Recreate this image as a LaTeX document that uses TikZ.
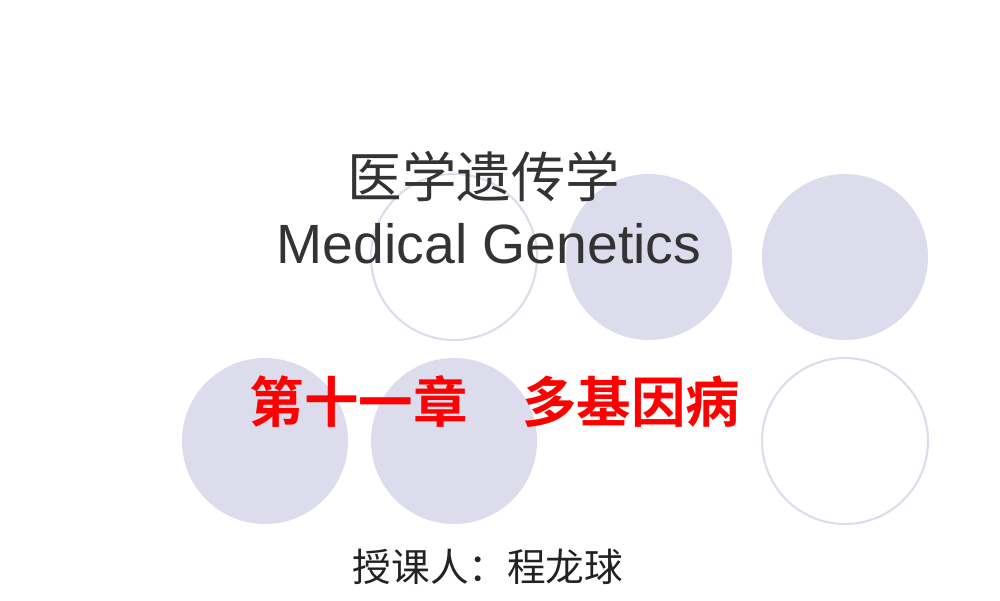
\documentclass[tikz,border=0pt]{standalone}
\usepackage{fontspec}
\setmainfont{Liberation Sans}
\newfontfamily\cjk{Noto Sans CJK SC}
\newfontfamily\cjkb{Noto Sans CJK SC Bold}
\begin{document}
\begin{tikzpicture}[x=0.02cm,y=-0.02cm,
  fc/.style={fill=circ,draw=none},
  oc/.style={draw=circ,line width=1.2pt}]
\definecolor{circ}{HTML}{DCDCEC}
\useasboundingbox (0,0) rectangle (1000,600);
\draw[oc] (454,257) circle (83);
\fill[circ] (649,257) circle (83);
\fill[circ] (845,257) circle (83);
\fill[circ] (265,441) circle (83);
\fill[circ] (454,441) circle (83);
\draw[oc] (845,441) circle (83);
\node (t1) at (484,177) {\fontsize{31pt}{33pt}\selectfont\cjk\color[HTML]{333333}医学遗传学};
\node (t2) at (489,244) {\fontsize{31.5pt}{33pt}\selectfont\color[HTML]{333333}Medical Genetics};
\node (t3) at (495,402) {\fontsize{31pt}{33pt}\selectfont\cjkb\color{red}第十一章\hspace{1em}多基因病};
\node (t4) at (488,567) {\fontsize{22pt}{24pt}\selectfont\cjk\color[HTML]{222222}授课人：程龙球};
\end{tikzpicture}
\end{document}
